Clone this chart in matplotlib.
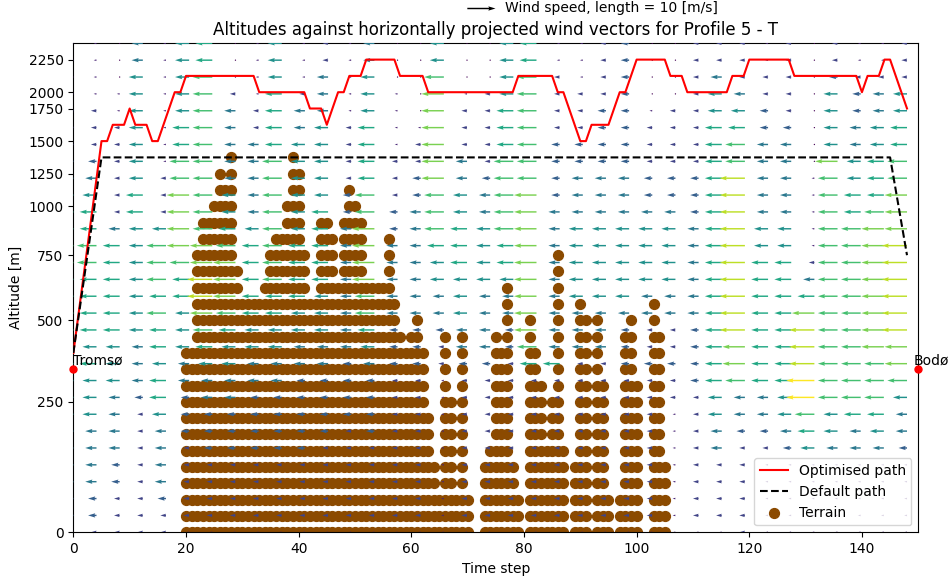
import numpy as np
import matplotlib
matplotlib.use("Agg")
import matplotlib.pyplot as plt

# y axis is the model level index, labelled with altitude
level_ticks = [0, 8, 13, 17, 20, 22, 24, 26, 27, 29]
altitude_labels = [0, 250, 500, 750, 1000, 1250, 1500, 1750, 2000, 2250]

# optimised path (time step, level) break points
opt_step = [0, 5, 6, 7, 9, 10, 11, 13, 14, 15, 18, 19, 20, 32, 33, 41, 42, 44, 45, 47,
            48, 49, 51, 52, 57, 58, 62, 63, 78, 79, 85, 86, 87, 90, 91, 92, 95, 97, 98, 99,
            100, 105, 106, 108, 109, 116, 117, 119, 120, 127, 128, 139, 140, 141, 143, 144, 145, 148]
opt_level = [11, 24, 24, 25, 25, 26, 25, 25, 24, 24, 27, 27, 28, 28, 27, 27, 26, 26, 25, 27,
             27, 28, 28, 29, 29, 28, 28, 27, 27, 28, 28, 27, 27, 24, 24, 25, 25, 27, 27, 28,
             29, 29, 28, 28, 27, 27, 28, 28, 29, 29, 28, 28, 27, 28, 28, 29, 29, 26]

default_step = [0, 5, 145, 148]
default_level = [11, 23, 23, 17]

# terrain: highest level filled at each time step
terrain_step = [20, 21, 22, 23, 24, 25, 26, 27, 28, 29, 30, 31, 32, 33, 34, 35, 36, 37, 38, 39,
                40, 41, 42, 43, 44, 45, 46, 47, 48, 49, 50, 51, 52, 53, 54, 55, 56, 57, 58, 59,
                60, 61, 62, 63, 64, 65, 66, 67, 68, 69, 70, 73, 74, 75, 76, 77, 78, 79, 81, 82,
                83, 84, 85, 86, 87, 89, 90, 91, 93, 94, 95, 97, 98, 99, 100, 103, 104, 105]
terrain_top = [11, 11, 17, 19, 19, 20, 22, 21, 23, 16, 14, 14, 14, 14, 15, 17, 18, 18, 20, 23,
               22, 17, 14, 14, 19, 19, 18, 15, 19, 21, 20, 19, 15, 15, 15, 15, 18, 14, 12, 11,
               12, 13, 11, 7, 4, 2, 12, 8, 2, 12, 2, 4, 5, 12, 11, 15, 4, 2, 13, 11,
               9, 5, 8, 17, 5, 4, 14, 13, 13, 9, 2, 2, 12, 13, 9, 14, 12, 4]

# wind grid
wind_step = np.linspace(0, 148, 37)
wind_level = np.linspace(0, 30, 30)
# horizontal wind speed [m/s], rows bottom -> top, 37 columns each
wind_speed = [
    [2, 2, 2, 2, 2, 1, 1, 1, 1, 1, 1, 1, 1, 1, 1, 1, 1, 1, 1, 1, 1, 1, 1, 1, 1, 1, 1, 1, 1, 2, 1, 1, 1, 1, 1, 1, 1],
    [3, 3, 2, 2, 2, 2, 2, 2, 2, 2, 2, 2, 2, 2, 2, 2, 1, 2, 2, 2, 2, 2, 2, 2, 2, 2, 1, 2, 2, 2, 1, 1, 1, 1, 1, 1, 1],
    [3, 3, 2, 2, 3, 2, 2, 2, 2, 2, 2, 2, 2, 2, 2, 2, 1, 2, 2, 2, 2, 2, 2, 2, 2, 2, 1, 2, 2, 2, 1, 1, 1, 1, 1, 1, 1],
    [4, 4, 3, 2, 4, 2, 2, 2, 2, 2, 2, 2, 2, 2, 2, 2, 1, 2, 2, 2, 2, 2, 2, 2, 2, 2, 1, 2, 2, 2, 1, 1, 1, 1, 1, 1, 1],
    [4, 4, 3, 2, 4, 2, 2, 2, 2, 2, 2, 2, 2, 2, 2, 2, 1, 2, 2, 2, 2, 2, 2, 2, 2, 2, 1, 2, 2, 2, 1, 1, 1, 1, 1, 1, 1],
    [4, 4, 4, 2, 4, 2, 3, 3, 3, 3, 3, 2, 2, 2, 2, 2, 1, 2, 2, 2, 2, 2, 2, 2, 2, 2, 1, 2, 4, 2, 2, 3, 5, 4, 4, 4, 3],
    [4, 4, 4, 2, 4, 3, 3, 3, 3, 3, 3, 3, 2, 3, 2, 2, 1, 2, 2, 2, 2, 2, 2, 2, 2, 2, 1, 2, 4, 3, 3, 4, 6, 5, 4, 5, 4],
    [5, 5, 4, 2, 5, 3, 3, 3, 3, 3, 3, 3, 3, 3, 2, 2, 1, 2, 2, 2, 2, 2, 2, 2, 2, 2, 1, 2, 5, 4, 4, 5, 7, 5, 6, 6, 4],
    [5, 5, 4, 3, 6, 3, 4, 4, 3, 3, 3, 3, 3, 3, 2, 2, 1, 2, 2, 2, 2, 2, 2, 2, 2, 2, 2, 2, 5, 4, 4, 5, 10, 7, 7, 7, 5],
    [5, 5, 5, 4, 6, 4, 4, 4, 4, 4, 3, 3, 3, 3, 2, 2, 1, 2, 2, 2, 2, 2, 2, 2, 2, 2, 2, 3, 6, 7, 6, 6, 10, 7, 7, 7, 7],
    [6, 6, 5, 4, 5, 4, 5, 5, 4, 4, 4, 4, 3, 4, 3, 3, 2, 3, 3, 2, 6, 6, 2, 2, 3, 3, 3, 3, 6, 8, 6, 6, 9, 7, 7, 7, 8],
    [5, 5, 5, 4, 6, 5, 6, 5, 5, 5, 4, 4, 4, 5, 3, 3, 2, 4, 4, 3, 7, 4, 4, 4, 3, 2, 2, 3, 6, 8, 6, 6, 9, 7, 7, 8, 8],
    [6, 6, 6, 5, 6, 5, 7, 6, 5, 5, 5, 5, 4, 6, 3, 3, 3, 4, 4, 3, 8, 4, 4, 4, 3, 2, 2, 3, 6, 9, 6, 6, 9, 7, 7, 8, 9],
    [6, 6, 6, 5, 7, 5, 8, 7, 6, 6, 5, 5, 4, 7, 4, 4, 4, 5, 4, 4, 8, 4, 4, 4, 4, 4, 4, 4, 6, 9, 6, 6, 8, 7, 7, 8, 9],
    [6, 6, 6, 5, 6, 6, 9, 8, 6, 6, 6, 5, 4, 7, 4, 4, 4, 5, 4, 4, 8, 4, 5, 5, 5, 4, 4, 4, 6, 9, 6, 6, 6, 7, 7, 8, 9],
    [6, 6, 6, 5, 7, 6, 9, 8, 6, 7, 6, 6, 4, 8, 4, 4, 5, 5, 5, 5, 8, 4, 5, 5, 5, 5, 5, 4, 6, 9, 6, 6, 4, 7, 7, 8, 9],
    [7, 7, 6, 5, 7, 7, 8, 8, 6, 7, 6, 6, 4, 8, 4, 4, 5, 6, 5, 6, 8, 4, 5, 5, 5, 5, 5, 4, 6, 9, 6, 6, 2, 7, 7, 8, 9],
    [7, 7, 6, 5, 7, 8, 8, 7, 6, 7, 6, 6, 4, 8, 4, 4, 6, 6, 5, 6, 8, 4, 5, 5, 5, 5, 5, 4, 6, 9, 5, 5, 1, 7, 7, 8, 9],
    [6, 6, 4, 5, 5, 8, 7, 6, 5, 7, 5, 6, 4, 8, 3, 4, 7, 6, 5, 7, 8, 4, 5, 5, 5, 5, 5, 4, 6, 9, 5, 5, 1, 7, 7, 8, 8],
    [6, 6, 2, 6, 2, 8, 7, 5, 4, 7, 5, 6, 3, 7, 3, 4, 7, 5, 4, 7, 8, 4, 4, 4, 4, 4, 4, 3, 6, 9, 4, 4, 1, 7, 6, 7, 8],
    [5, 5, 2, 6, 2, 8, 7, 5, 4, 7, 5, 5, 3, 7, 2, 3, 7, 5, 4, 7, 8, 3, 4, 4, 4, 3, 3, 3, 6, 9, 4, 4, 1, 7, 6, 6, 8],
    [4, 4, 2, 5, 2, 7, 7, 4, 4, 7, 5, 5, 2, 6, 2, 3, 8, 4, 3, 7, 7, 3, 4, 4, 4, 3, 3, 3, 6, 9, 4, 4, 1, 7, 5, 6, 7],
    [3, 3, 2, 5, 1, 7, 7, 4, 4, 7, 5, 5, 2, 6, 2, 2, 8, 4, 2, 7, 7, 3, 3, 3, 3, 2, 2, 2, 6, 7, 4, 4, 0, 8, 5, 6, 7],
    [2, 2, 2, 5, 1, 6, 7, 4, 4, 6, 5, 5, 2, 6, 1, 2, 8, 2, 2, 6, 7, 3, 3, 3, 3, 2, 2, 2, 6, 7, 4, 4, 0, 5, 4, 5, 6],
    [2, 2, 2, 5, 1, 6, 7, 4, 2, 6, 4, 5, 2, 6, 1, 1, 8, 2, 2, 6, 7, 2, 2, 3, 3, 2, 2, 2, 6, 6, 3, 3, 0, 5, 4, 5, 6],
    [2, 2, 1, 5, 1, 5, 7, 4, 2, 6, 4, 4, 1, 5, 1, 0, 8, 2, 2, 6, 7, 2, 2, 3, 3, 1, 2, 2, 5, 5, 3, 2, 0, 5, 3, 4, 5],
    [1, 1, 1, 5, 1, 5, 7, 2, 1, 6, 2, 4, 1, 5, 1, 0, 8, 1, 2, 5, 7, 2, 2, 2, 3, 0, 0, 2, 5, 4, 2, 2, 0, 5, 3, 4, 5],
    [1, 1, 0, 5, 1, 5, 7, 0, 1, 5, 1, 4, 1, 5, 0, 0, 7, 0, 0, 5, 7, 2, 1, 2, 3, 0, 0, 2, 4, 2, 2, 2, 0, 3, 2, 2, 2],
    [1, 1, 0, 4, 1, 5, 6, 0, 1, 5, 1, 2, 1, 4, 0, 0, 5, 0, 0, 5, 6, 1, 1, 2, 3, 0, 0, 2, 2, 2, 1, 2, 0, 2, 1, 1, 2],
    [1, 1, 0, 4, 1, 5, 6, 0, 1, 5, 1, 2, 1, 4, 0, 0, 5, 0, 0, 5, 6, 1, 1, 2, 3, 0, 0, 2, 2, 2, 1, 2, 0, 2, 1, 1, 2],
]

places = ["Tromsø", "Bodø"]
place_step = [0, 150]
place_level = [10, 10]

speed = np.array(wind_speed, dtype=float)
assert speed.shape == (len(wind_level), len(wind_step))
X, Y = np.meshgrid(wind_step, wind_level)

tx, ty = [], []
for s, top in zip(terrain_step, terrain_top):
    for lev in range(top + 1):
        tx.append(s)
        ty.append(lev)

fig = plt.figure(figsize=(9.5, 5.79), dpi=100)
ax = fig.add_axes([0.0772, 0.0807, 0.8894, 0.8445])

ax.scatter(tx, ty, s=50, color="#8b4a00", zorder=2, label="Terrain")
q = ax.quiver(X, Y, -speed, np.zeros_like(speed), speed, cmap="viridis", clim=(0, 10),
              angles="xy", scale_units="xy", scale=2, width=0.0017, zorder=3)
ax.plot(opt_step, opt_level, color="red", lw=1.5, zorder=4, label="Optimised path")
ax.plot(default_step, default_level, "k--", lw=1.5, zorder=4, label="Default path")

ax.plot(place_step, place_level, "o", color="red", ms=5, clip_on=False, zorder=5)
# Bodø sits on the right spine, nudge its label so it stays inside the figure
for name, s, lev, dx in zip(places, place_step, place_level, [0, -3]):
    ax.annotate(name, (s, lev), xytext=(dx, 1), textcoords="offset points",
                fontsize=10, ha="left", va="bottom", annotation_clip=False)

ax.quiverkey(q, 0.521, 0.986, 10, "Wind speed, length = 10 [m/s]", labelpos="E",
             coordinates="figure", color="k")

ax.set_xlim(0, 150)
ax.set_ylim(0, 30)
ax.set_yticks(level_ticks)
ax.set_yticklabels(altitude_labels)
ax.set_xticks([0, 20, 40, 60, 80, 100, 120, 140])
ax.set_xlabel("Time step")
ax.set_ylabel("Altitude [m]")
ax.set_title("Altitudes against horizontally projected wind vectors for Profile 5 - T", fontsize=12)

h, l = ax.get_legend_handles_labels()
order = [l.index("Optimised path"), l.index("Default path"), l.index("Terrain")]
ax.legend([h[i] for i in order], [l[i] for i in order], loc="lower right")

fig.savefig("out.png", dpi=100)
